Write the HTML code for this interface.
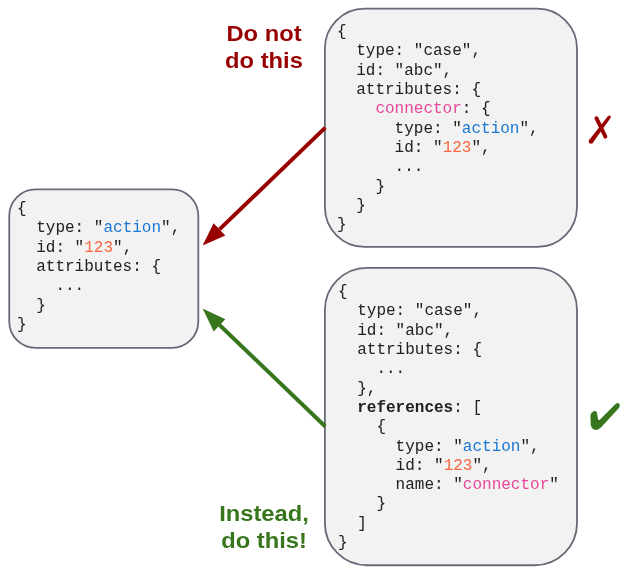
<!DOCTYPE html>
<html><head><meta charset="utf-8">
<style>
html,body{margin:0;padding:0;background:#fff;width:628px;height:576px;overflow:hidden;position:relative}
svg{position:absolute;left:0;top:0}
.code{position:absolute;will-change:transform;font-family:"Liberation Mono",monospace;font-size:16px;line-height:19.32px;white-space:pre;color:#212121}
.lbl{position:absolute;will-change:transform;width:160px;text-align:center;font-family:"Liberation Sans",sans-serif;font-weight:bold;font-size:22.5px;line-height:26.6px;transform:scaleX(1.055);transform-origin:50% 0;white-space:pre}
.b{color:#1976d2}.o{color:#f96642}.p{color:#e8479b}
.k{font-weight:bold}
</style></head><body>
<svg width="628" height="576" viewBox="0 0 628 576">
  <rect x="324.9" y="8.7" width="252.1" height="238.2" rx="39.7" ry="39.7" fill="#f2f2f2" stroke="#666a77" stroke-width="1.8"/>
  <rect x="324.9" y="267.9" width="252.1" height="297.35" rx="42" ry="42" fill="#f2f2f2" stroke="#666a77" stroke-width="1.8"/>
  <rect x="9.25" y="189.3" width="189.05" height="158.6" rx="26.4" ry="26.4" fill="#f2f2f2" stroke="#666a77" stroke-width="1.8"/>
  <line x1="325.3" y1="127.7" x2="219.45" y2="229.4" stroke="#990000" stroke-width="3.9"/>
  <polygon points="202.6,245.45 213.6,223.2 225.3,235.6" fill="#990000"/>
  <line x1="325.3" y1="426.5" x2="219.55" y2="325" stroke="#38761d" stroke-width="3.9"/>
  <polygon points="202.6,308.6 225.3,319.2 213.7,331.4" fill="#38761d"/>
  <g fill="#990000">
    <line x1="596.4" y1="118.2" x2="605.4" y2="136.6" stroke="#990000" stroke-width="3.9" stroke-linecap="round"/>
    <path d="M608.1,116.1 L610.5,117.9 L592.84,142.78 L589.16,140.02 Z"/>
    <circle cx="609.3" cy="117.0" r="1.5"/>
    <circle cx="591.0" cy="141.4" r="2.3"/>
  </g>
  <path fill="#38761d" d="M594.8,411.1 C592.5,411.5 590.4,413.5 590.4,416 L590.75,424.25 C591,427.5 593,429.9 596.1,429.9 C598,429.9 599.5,428.6 601,427.5 L618.9,408 C620,406.5 620.2,404 618.25,403 C617,402.5 615.5,403.9 614.5,404.9 L599.5,419.9 C598.5,420.5 598,419.5 597.9,418.6 L597,413 C596.8,411.8 596,411 594.8,411.1 Z"/>
</svg>
<div class="lbl" style="left:184px;top:20.7px;color:#990000">Do not
do this</div>
<div class="lbl" style="left:184px;top:500.7px;color:#38761d">Instead,
do this!</div>
<div class="code" style="left:336.85px;top:23px">{
  type: "case",
  id: "abc",
  attributes: {
    <span class="p">connector</span>: {
      type: "<span class="b">action</span>",
      id: "<span class="o">123</span>",
      ...
    }
  }
}</div>
<div class="code" style="left:17.35px;top:199.7px">{
  type: "<span class="b">action</span>",
  id: "<span class="o">123</span>",
  attributes: {
    ...
  }
}</div>
<div class="code" style="left:337.65px;top:282.8px">{
  type: "case",
  id: "abc",
  attributes: {
    ...
  },
  <span class="k">references</span>: [
    {
      type: "<span class="b">action</span>",
      id: "<span class="o">123</span>",
      name: "<span class="p">connector</span>"
    }
  ]
}</div>
</body></html>
